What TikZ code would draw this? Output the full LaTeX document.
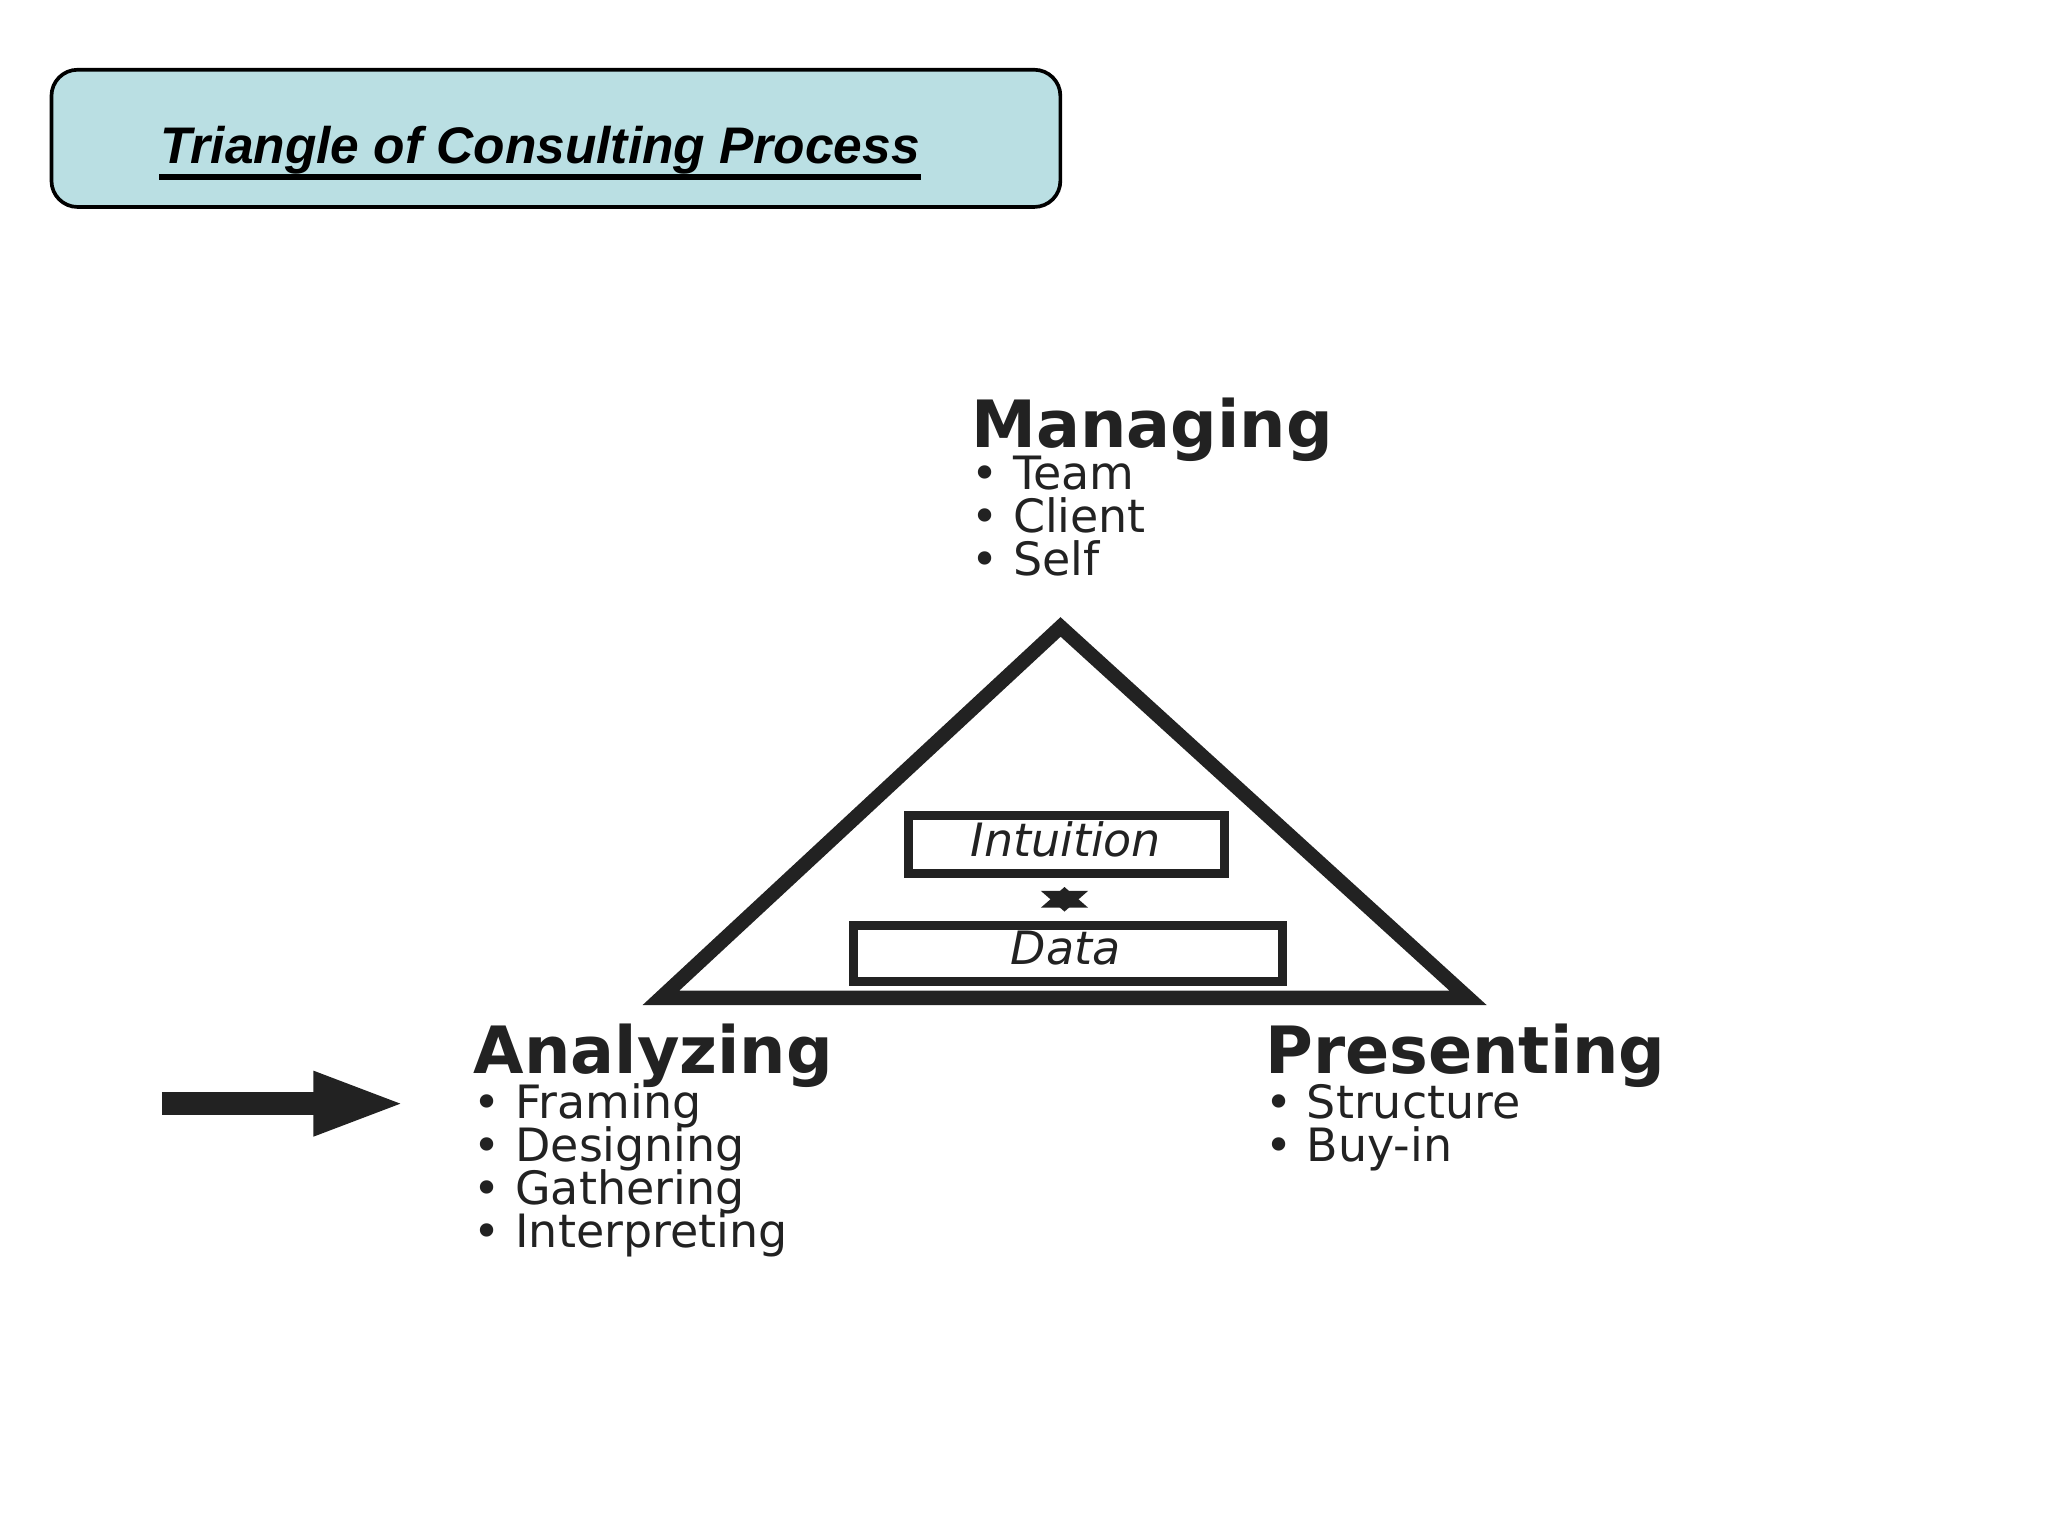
\documentclass[tikz,border=0pt]{standalone}
\usepackage{fontspec}
\setmainfont{DejaVu Sans}
\newfontfamily\titlefont{Liberation Sans}
\usetikzlibrary{arrows.meta}
\definecolor{titlebg}{HTML}{BADFE3}
\definecolor{ink}{HTML}{222222}
\tikzset{
  head/.style={anchor=base west,inner sep=0,font=\bfseries\fontsize{14.2}{14}\selectfont,text=ink},
  item/.style={anchor=base west,inner sep=0,font=\fontsize{10}{10}\selectfont,text=ink},
  ibox/.style={draw=ink,line width=2pt,inner sep=0},
}
\begin{document}
\begin{tikzpicture}[x=0.01cm,y=-0.01cm]
\useasboundingbox (0,0) rectangle (1568,1176);
\fill[white] (0,0) rectangle (1568,1176);
\node[draw=black,fill=titlebg,rounded corners=0.2cm,minimum width=7.72cm,minimum height=1.05cm,anchor=north west,line width=0.8pt] (title) at (38,52) {};
\node[anchor=base west,inner sep=0,font=\titlefont\bfseries\itshape\fontsize{11.2}{12}\selectfont] (tt) at (122,125) {Triangle of Consulting Process};
\draw[line width=1.3pt] ([yshift=-3pt]tt.base west) -- ([yshift=-3pt]tt.base east);
% triangle
\draw[ink,line width=0.11cm,line join=miter] (812,480) -- (1124,764) -- (506,764) -- cycle;
\node[ibox,minimum width=2.42cm,minimum height=0.44cm,anchor=north west] (intu) at (692,621) {};
\node[anchor=center,font=\itshape\fontsize{10}{10}\selectfont,text=ink] (intut) at (816,643) {Intuition};
\node[ibox,minimum width=3.28cm,minimum height=0.43cm,anchor=north west] (data) at (650,705) {};
\node[anchor=center,font=\itshape\fontsize{10}{10}\selectfont,text=ink] (datat) at (816,726) {Data};
\draw[ink,line width=2.5pt,{Triangle[length=4.5pt,width=10pt]}-{Triangle[length=4.5pt,width=10pt]}] ([yshift=-2pt]intu.south -| 815,0) -- ([yshift=2pt]data.north -| 815,0);
% labels
\node[head] (man) at (743,343) {Managing};
\node[item] (m1) at (743,375) {• Team};
\node[item] (m2) at (743,408) {• Client};
\node[item] (m3) at (743,441) {• Self};
\node[head] (ana) at (362,822) {Analyzing};
\node[item] (a1) at (362,856) {• Framing};
\node[item] (a2) at (362,889) {• Designing};
\node[item] (a3) at (362,922) {• Gathering};
\node[item] (a4) at (362,955) {• Interpreting};
\node[head] (pre) at (968,822) {Presenting};
\node[item] (p1) at (968,856) {• Structure};
\node[item] (p2) at (968,889) {• Buy-in};
% arrow
\coordinate (as) at (124,845);
\coordinate (ae) at (312,845);
\draw[ink,line width=0.18cm,-{Triangle[length=0.72cm,width=0.44cm]}] (as) -- (ae);
\end{tikzpicture}
\end{document}
